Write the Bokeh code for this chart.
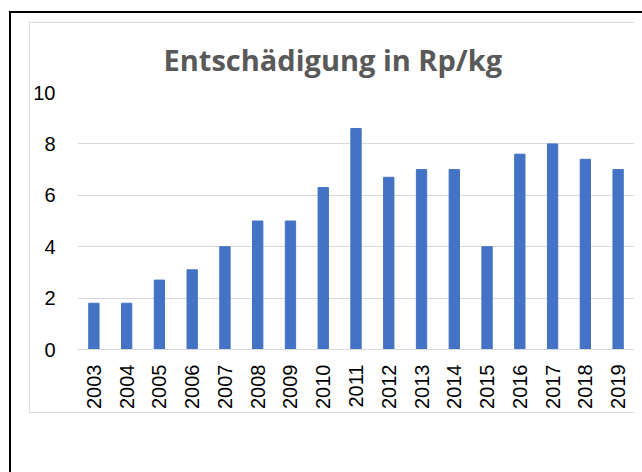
import math
from bokeh.plotting import figure
from bokeh.models import InlineStyleSheet
from bokeh.embed import file_html
from bokeh.resources import INLINE

years = ["2003", "2004", "2005", "2006", "2007", "2008", "2009", "2010", "2011",
         "2012", "2013", "2014", "2015", "2016", "2017", "2018", "2019"]
values = [1.8, 1.8, 2.7, 3.1, 4.0, 5.0, 5.0, 6.3, 8.6, 6.7, 7.0, 7.0, 4.0, 7.6, 8.0, 7.4, 7.0]
y_ticks = [0, 2, 4, 6, 8, 10]
title_text = "Entschädigung in Rp/kg"

p = figure(x_range=years, y_range=(0, 10), width=604, height=389,
           output_backend="svg", toolbar_location=None,
           min_border_left=46, min_border_right=1, min_border_top=66, min_border_bottom=65,
           title=title_text)
p.outline_line_color = None
p.background_fill_color = "white"
p.border_fill_color = "white"
p.margin = (22, 0, 0, 29)
p.styles = {"box-sizing": "content-box", "position": "relative",
            "border-left": "1px solid #D9D9D9", "border-top": "1px solid #D9D9D9",
            "border-bottom": "1px solid #D9D9D9", "border-right": "none"}
p.stylesheets = [InlineStyleSheet(css=(
    ":host::before { content: ''; position: absolute; left: -21px; top: -12px; "
    "width: 633px; height: 461px; box-sizing: border-box; "
    "border-left: 2px solid #000000; border-top: 2px solid #000000; pointer-events: none; }"
))]

p.title.align = "left"
p.title.offset = 86
p.title.standoff = 28
p.title.text_font = "Open Sans"
p.title.text_font_style = "bold"
p.title.text_font_size = "29px"
p.title.text_color = "#595959"

p.vbar(x=years, top=values, width=0.315, fill_color="#4472C4", line_color="#4472C4")

p.xgrid.grid_line_color = None
p.ygrid.grid_line_color = "#D9D9D9"
p.ygrid.grid_line_width = 1
p.yaxis.ticker = y_ticks

for ax in (p.xaxis, p.yaxis):
    ax.major_tick_line_color = None
    ax.minor_tick_line_color = None
    ax.major_tick_out = 0
    ax.major_tick_in = 0
    ax.minor_tick_out = 0
    ax.minor_tick_in = 0
    ax.major_label_text_font = "Liberation Sans"
    ax.major_label_text_font_size = "20px"
    ax.major_label_text_color = "#000000"

p.yaxis.axis_line_color = None
p.yaxis.major_label_standoff = 22
p.xaxis.axis_line_color = "#D9D9D9"
p.xaxis.axis_line_width = 1
p.xaxis.major_label_orientation = math.pi / 2
p.xaxis.major_label_standoff = 15

open("out.html", "w").write(file_html(p, INLINE))
